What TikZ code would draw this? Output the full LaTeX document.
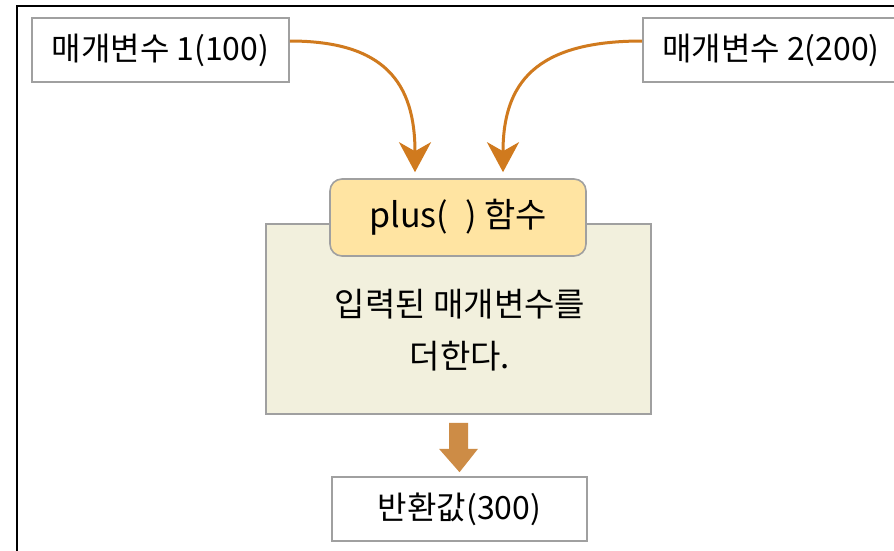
\documentclass[tikz,border=0pt]{standalone}
\usepackage{fontspec}
\setmainfont{Noto Sans CJK KR}
\usetikzlibrary{arrows.meta}
\definecolor{boxgray}{RGB}{160,160,160}
\definecolor{plusfill}{RGB}{255,228,162}
\definecolor{bodyfill}{RGB}{242,240,221}
\definecolor{arrorange}{RGB}{208,122,30}
\definecolor{blockorange}{RGB}{205,140,70}
\tikzset{
  plainbox/.style={draw=boxgray, line width=1.6pt, fill=white, inner sep=0pt, font=\fontsize{32}{38}\selectfont},
  titlebox/.style={draw=boxgray, line width=1.6pt, fill=plusfill, rounded corners=12pt, inner sep=0pt, font=\fontsize{34}{40}\selectfont},
  bodybox/.style={draw=boxgray, line width=1.6pt, fill=bodyfill, inner sep=0pt},
  bodytext/.style={align=center, font=\fontsize{33}{52}\selectfont, inner sep=0pt},
  curvearrow/.style={draw=arrorange, line width=3pt, -{Stealth[length=30pt, width=32pt, inset=9pt]}}
}
\begin{document}
\begin{tikzpicture}[x=1pt, y=-1pt]
\useasboundingbox (0,0) rectangle (894,550);
\clip (0,0) rectangle (894,550);
\fill[white] (0,0) rectangle (894,550);
\draw[line width=2.2pt] (17,600) -- (17,6) -- (950,6);

\node[plainbox, minimum width=257pt, minimum height=64pt] (p1) at (160.5,50) {매개변수 1(100)};
\node[plainbox, minimum width=262pt, minimum height=64pt] (p2) at (774,50) {매개변수 2(200)\hspace*{6pt}};

\node[bodybox, minimum width=385pt, minimum height=190pt] (body) at (458.5,319) {};
\node[titlebox, minimum width=256pt, minimum height=77pt] (title) at (458,217.5) {plus(\hspace{0.5em}) 함수};
\node[bodytext] (desc) at (460,330) {입력된 매개변수를\\더한다.};

\node[plainbox, minimum width=255pt, minimum height=64pt] (ret) at (459.5,509) {반환값(300)};

\coordinate (t1) at ([xshift=-43pt]title.north);
\coordinate (t2) at ([xshift=45pt]title.north);
\draw[curvearrow] (p1.east |- 0,41) .. controls (385,41) and ([yshift=95pt]t1) .. ([yshift=6pt]t1);
\draw[curvearrow] (p2.west |- 0,41) .. controls (535,41) and ([yshift=95pt]t2) .. ([yshift=6pt]t2);

\fill[blockorange] ([shift={(-9.5pt,-8pt)}]body.south) -- ([shift={(9.5pt,-8pt)}]body.south)
  -- ([shift={(9.5pt,-34pt)}]body.south) -- ([shift={(19.5pt,-34pt)}]body.south)
  -- ([yshift=4pt]ret.north) -- ([shift={(-19.5pt,-34pt)}]body.south)
  -- ([shift={(-9.5pt,-34pt)}]body.south) -- cycle;
\end{tikzpicture}
\end{document}
